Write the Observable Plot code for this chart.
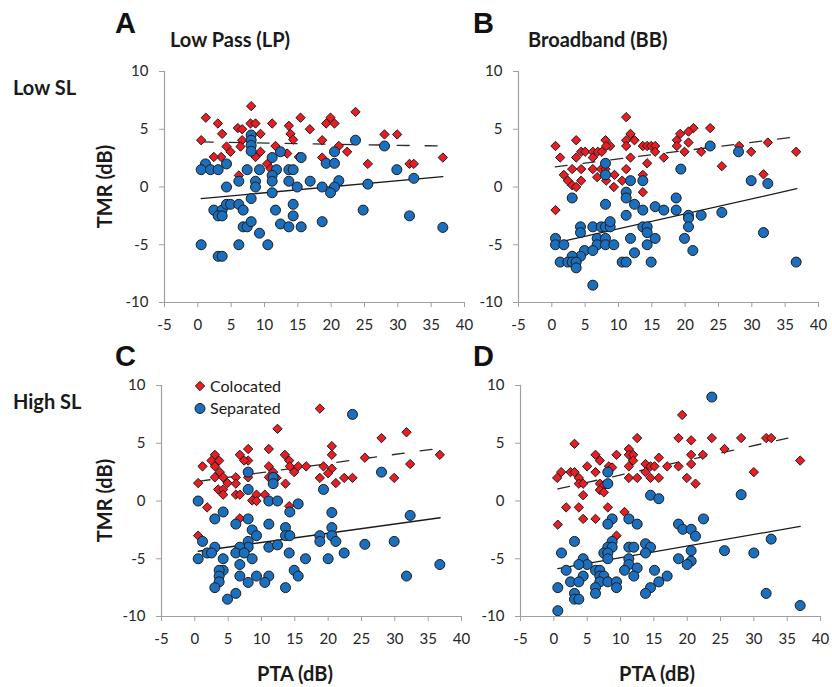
<!DOCTYPE html>
<html>
<head>
<meta charset="utf-8">
<script src="https://cdn.jsdelivr.net/npm/d3@7"></script>
<script src="https://cdn.jsdelivr.net/npm/@observablehq/plot@0.6"></script>
<style>
  html, body { margin: 0; padding: 0; background: #fff; }
  #fig { position: relative; width: 832px; height: 687px; background: #fff; overflow: hidden; }
  .panel { position: absolute; }
  #overlay { position: absolute; left: 0; top: 0; pointer-events: none; }
</style>
</head>
<body>
<div id="fig"></div>
<script>
// ---------- data (PTA dB, TMR dB) ----------
const xTicks = [-5, 0, 5, 10, 15, 20, 25, 30, 35, 40];
const yTicks = [-10, -5, 0, 5, 10];
const seriesNames = ["Colocated", "Separated"];
const panelLetters = ["A", "B", "C", "D"];
const columnTitles = ["Low Pass (LP)", "Broadband (BB)"];
const rowTitles = ["Low SL", "High SL"];

// Panel A: Low Pass, Low SL
const A_col = [[8,7],[1.2,6],[3,5.5],[15.4,6],[11.15,5.5],[16.8,5],[13.65,5.3],[3.65,4.6],[6,5.1],[6.65,5],[7.9,5.5],[8.65,5.5],[9.4,4.6],[0.5,4.05],[6.65,4.05],[13.9,4.6],[14.3,4.1],[4.3,3.5],[4.9,3.05],[3.5,2.6],[2.4,2.6],[6.4,3.5],[8.65,2.6],[9.4,3.05],[11.65,3.55],[10.4,2],[10.9,1.6],[6.15,1],[13.4,2.9],[15.15,2.6],[23.65,6.5],[19.9,6],[19.25,5.5],[20.5,5.5],[18.65,4.05],[28,4.55],[29.9,4.55],[21.15,3.55],[22.4,3.05],[18.65,2.55],[25.5,2],[31.75,2],[32.4,2],[36.75,2.55]];
const A_sep = [[8,4.5],[8,4.05],[8,3.6],[8,3.1],[1.15,2],[0.5,1.5],[1.9,1.5],[3.05,1.5],[4.3,2],[7.4,1.5],[9.25,1.5],[11.15,2.55],[12.4,3.05],[11.8,1.5],[11.15,1],[11.15,0.5],[8.65,0.5],[8.65,0],[6.15,0.5],[4.3,0],[13.65,1.5],[14.3,1.5],[13.65,0.5],[14.9,0],[15.5,2.55],[16.85,0.5],[11.15,-0.5],[8,-1],[2.4,-2],[3.65,-2],[3.05,-2.5],[3.65,-2.5],[4.3,-1.5],[4.9,-1.5],[6.15,-1.5],[6.8,-2],[6.8,-3.45],[7.4,-3.45],[8,-3],[9.25,-4],[11.65,-2],[12.4,-3.2],[13.65,-3.45],[14.3,-1.5],[14.3,-2.5],[15.5,-3.45],[0.5,-5],[6.15,-5],[10.5,-5],[3.05,-6],[3.65,-6],[23.65,4.05],[28,3.55],[20.5,3.05],[19.25,2.05],[20.5,2.05],[29.85,1.5],[18.65,0],[21.15,0.55],[20.5,0],[19.9,-0.5],[25.5,0.25],[32.4,0.75],[24.8,-2],[31.75,-2.5],[18.65,-3],[36.75,-3.5]];
const A_colTrend = [[0.5,3.9],[36.25,3.55]];
const A_sepTrend = [[0.5,-1.0],[36.75,0.9]];

// Panel B: Broadband, Low SL
const B_col = [[11.15,6.05],[3.65,4.05],[0.55,3.55],[1.25,2.55],[8.05,4.05],[11.8,4.6],[11.15,4.05],[12.4,4.05],[11.15,3.55],[4.4,3.05],[5,3.05],[6.15,3.05],[6.9,3.05],[7.5,3.05],[8.75,3.55],[8.15,3.55],[3.65,2.55],[6.15,2.55],[11.8,2.55],[13.65,3.55],[14.3,3.55],[14.9,3.55],[15.5,3.55],[15.5,3.05],[16.8,2.55],[14.3,2.05],[3.05,1.55],[4.4,1.55],[6.15,1.55],[7.4,1.55],[8.05,1.55],[11.15,1.55],[1.8,1.05],[2.4,0.55],[3.05,0.15],[3.65,0],[4.4,0.55],[6.8,0.85],[8.15,0.55],[9.4,1.05],[9.3,0],[10.55,0.55],[13.65,1.05],[13.65,-0.45],[0.55,-2],[21.25,5.1],[19.25,4.6],[20.5,4.8],[18.75,4.05],[20.5,3.85],[18.75,3.55],[19.9,3.05],[23.75,5.1],[22.4,3.05],[28.1,3.55],[29.9,3.05],[32.4,3.85],[36.65,3.05],[25.5,1.8],[31.75,1.1]];
const B_sep = [[8.05,2.05],[8.05,1.05],[11.8,0.55],[13.65,0.55],[3.05,-0.95],[8.05,-1.5],[11.15,-0.45],[11.15,-0.95],[12.4,-1.5],[13.65,-2],[15.5,-1.7],[16.8,-2],[11.15,-2.45],[4.3,-3.45],[4.3,-3.95],[6.15,-3.45],[7.4,-3.45],[8.05,-3.45],[8.75,-3.45],[8.75,-3],[0.55,-4.45],[0.55,-5],[1.8,-5],[6.8,-4.45],[8.05,-4.45],[6.8,-5],[8.05,-5],[9.3,-5],[4.9,-5.5],[6.15,-5.5],[4.3,-6],[3.05,-6],[1.25,-6.5],[2.4,-6.5],[3.05,-6.5],[3.65,-6.5],[3.65,-7],[11.8,-4.45],[13.65,-3.45],[14.3,-3.45],[14.3,-3.95],[15.5,-4.45],[14.3,-5],[12.4,-5.7],[10.55,-6.5],[11.15,-6.5],[14.9,-6.5],[6.15,-8.5],[23.75,3.55],[28,3.05],[19.35,1.55],[29.9,0.55],[32.4,0.3],[18.65,-0.95],[18.65,-2],[20.5,-2.45],[20.5,-2.7],[22.4,-2.45],[25.5,-2.2],[20.5,-3.45],[19.9,-4.45],[21.15,-5.5],[31.75,-3.95],[36.65,-6.5]];
const B_colTrend = [[0.5,1.75],[36,4.3]];
const B_sepTrend = [[1.25,-4.75],[36.75,-0.15]];

// Panel C: Low Pass, High SL
const C_col = [[12.4,6.25],[8,4.5],[11.1,4.5],[6.75,4],[3,4],[2.5,3.5],[3.65,3.5],[3,3],[1.15,3],[8,3.5],[7.4,3.5],[13.5,4],[14.15,3.5],[14.25,3],[15.5,3],[16.7,3],[14.9,2.5],[11.1,3],[11.75,2.5],[3.75,2.5],[3,2.05],[4.25,2.05],[6.15,2.05],[8,2.05],[0.5,1.55],[4.9,1.55],[6.15,1.5],[11.1,2.05],[12.25,2],[13.6,1.5],[3.5,1],[4.25,1],[4.25,0.55],[6.15,0.55],[6.75,0.55],[9.25,0.55],[10.5,0.55],[8.6,0.05],[9.25,0],[1.85,-0.55],[14.15,-0.45],[6.75,-1.5],[0.5,-3],[18.75,8],[31.75,5.95],[28,5.45],[20.55,4.75],[20.55,4],[25.5,3.75],[36.75,4],[19.3,3],[20.55,2.8],[20,2.4],[18.75,2],[21.15,1.55],[22.4,2],[23.65,2],[29.9,2],[32.3,3.2]];
const C_sep = [[8,2.5],[11.75,2.05],[11.75,1.5],[8,1],[0.5,0],[11.1,0],[12.4,0],[15.5,-0.25],[4.25,-0.95],[3,-1.55],[14.25,-0.95],[8,-1.55],[6.15,-2],[11.1,-2],[8.6,-2.5],[9.25,-3],[13.6,-2.3],[13.6,-3],[14.25,-3],[1.15,-3.5],[8,-3.5],[8,-4],[6.75,-4],[3,-4],[1.85,-4.5],[2.5,-4.5],[6.15,-4.5],[7.4,-4.5],[8.6,-5],[11.1,-4],[12.4,-3.8],[0.5,-5],[4.25,-5],[6.75,-5.5],[14.15,-4.5],[16.6,-5],[4.25,-6],[3.65,-6],[3.65,-6.5],[6.75,-6.5],[9.25,-6.5],[11.1,-6.5],[14.9,-6],[15.5,-6.5],[3.65,-7],[8,-7.05],[10.5,-7.05],[3,-7.5],[13.6,-7.5],[6.15,-8],[4.9,-8.5],[23.65,7.5],[28,2.5],[19.3,1],[20.55,-1],[20.55,-2.3],[20.55,-3],[18.75,-3],[18.75,-3.5],[21.15,-3.5],[22.4,-4.5],[25.5,-3.75],[29.9,-3.5],[32.3,-1.25],[20,-5],[31.75,-6.5],[36.75,-5.5]];
const C_colTrend = [[0.5,1.7],[35.9,4.5]];
const C_sepTrend = [[0.5,-4.35],[36.8,-1.45]];

// Panel D: Broadband, High SL
const D_col = [[12.5,5.45],[3.1,4.95],[11.25,4.5],[6.25,4],[6.9,3.5],[9.4,4],[11.25,4],[11.9,4],[11.9,3.5],[15.75,3.75],[5,3],[8.25,3],[8.75,2.9],[11.25,3],[13.75,3.2],[14.5,3],[15.1,3],[17,3],[1.1,2.5],[2.5,2.5],[3.1,2.5],[6.25,2.5],[13.75,2.5],[0.5,2],[3.75,2],[11.25,2],[12.5,2],[14.5,2],[15.75,2],[3.75,1.5],[4.4,1.5],[6.9,1.5],[7.5,1.35],[6.9,0.95],[7.5,0.75],[4.4,0.5],[1.85,-0.55],[3.75,-0.55],[8.1,-0.55],[10.6,-0.95],[4.4,-1.55],[6.25,-1.55],[9.4,-3],[0.6,-2.05],[19.25,7.45],[18.7,5.45],[20.6,5.25],[23.7,5.45],[28.1,5.45],[31.85,5.45],[32.6,5.45],[25.6,4.5],[20.6,4],[22.35,4],[18.7,3],[20.6,3.2],[19.95,2],[21.25,1.5],[30,2.5],[36.95,3.5]];
const D_sep = [[8.1,2.5],[8.1,1.5],[14.5,0.5],[15.75,0.2],[8.75,-1.55],[8.1,-2],[11.25,-1.55],[12.5,-2],[3.1,-3.5],[1.15,-4.5],[8.75,-3.5],[8.1,-4],[8.75,-4],[7.5,-4.5],[8.1,-4.5],[11.25,-4],[12,-4],[13.75,-3.7],[14.5,-4],[13.75,-4.5],[4.4,-5],[5,-5.5],[8.1,-5],[11.25,-5],[11.25,-5.5],[3.75,-5.5],[1.85,-6],[6.25,-6],[6.9,-6],[10.6,-6],[12.5,-5.8],[15.1,-6],[4.4,-6.5],[6.9,-6.5],[7.5,-6.5],[12,-6.5],[2.5,-7],[3.75,-7],[6.9,-7],[8.1,-7],[9.4,-7],[9.4,-7.5],[6.25,-7.5],[15.75,-7],[17,-6.5],[14.5,-7.5],[13.75,-8],[0.6,-7.5],[3.1,-8],[3.1,-8.5],[3.75,-8.5],[6.25,-8],[0.6,-9.5],[23.7,9],[28.1,0.55],[22.45,-1.55],[18.7,-2],[19.35,-2.45],[20.6,-2.45],[21.25,-3.05],[20.6,-4.3],[18.7,-5],[20.6,-5.2],[20,-5.5],[25.6,-4.3],[30,-4.5],[32.6,-3.3],[31.85,-8],[36.95,-9.05]];
const D_colTrend = [[0.6,1.05],[35.1,5.45]];
const D_sepTrend = [[0.6,-5.85],[36.95,-2.2]];

// ---------- styling ----------
const RED = "#ec1c24";
const BLUE = "#1b6fbf";
const EDGE = "#1c1c1c";
const AXIS = "#a0a0a0";
const FONT = "Lato, 'Open Sans', 'Noto Sans', sans-serif";

const fig = document.getElementById("fig");

function panel(col, sep, colTrend, sepTrend) {
  return Plot.plot({
    width: 360, height: 276,
    marginLeft: 50, marginRight: 10, marginTop: 10, marginBottom: 35,
    x: {domain: [-5, 40]},
    y: {domain: [-10, 10]},
    style: {fontFamily: FONT, fontSize: "15px", color: "#262626", background: "transparent", overflow: "visible"},
    marks: [
      Plot.ruleX([-5], {stroke: AXIS, strokeWidth: 1.2}),
      Plot.ruleY([-10], {stroke: AXIS, strokeWidth: 1.2}),
      Plot.axisX({ticks: xTicks, tickSize: 5, tickPadding: 12, stroke: AXIS, fill: "#262626", label: null, tickFormat: d => String(d)}),
      Plot.axisY({ticks: yTicks, tickSize: 5, tickPadding: 11, stroke: AXIS, fill: "#262626", label: null, tickFormat: d => String(d)}),
      Plot.line(colTrend, {x: d => d[0], y: d => d[1], stroke: "#2a2a2a", strokeWidth: 1.3, strokeDasharray: "12,16"}),
      Plot.line(sepTrend, {x: d => d[0], y: d => d[1], stroke: "#1a1a1a", strokeWidth: 1.3}),
      Plot.dot(col, {x: d => d[0], y: d => d[1], symbol: "diamond2", r: 4.2, fill: RED, stroke: EDGE, strokeWidth: 1}),
      Plot.dot(sep, {x: d => d[0], y: d => d[1], symbol: "circle", r: 5, fill: BLUE, stroke: EDGE, strokeWidth: 1})
    ]
  });
}

const panels = [
  {plot: panel(A_col, A_sep, A_colTrend, A_sepTrend), left: 114, top: 61},
  {plot: panel(B_col, B_sep, B_colTrend, B_sepTrend), left: 467.5, top: 61},
  {plot: panel(C_col, C_sep, C_colTrend, C_sepTrend), left: 111, top: 375},
  {plot: panel(D_col, D_sep, D_colTrend, D_sepTrend), left: 470, top: 375}
];
for (const p of panels) {
  const div = document.createElement("div");
  div.className = "panel";
  div.style.left = p.left + "px";
  div.style.top = p.top + "px";
  div.appendChild(p.plot);
  fig.appendChild(div);
}

// ---------- overlay text (titles, labels, legend) ----------
const svg = d3.select(fig).append("svg")
  .attr("id", "overlay").attr("width", 832).attr("height", 687);

const letterPos = [[115, 33], [473, 33], [115, 366], [473, 366]];
panelLetters.forEach((t, i) => {
  svg.append("text").attr("x", letterPos[i][0]).attr("y", letterPos[i][1])
    .attr("font-family", "'Liberation Sans', Arial, sans-serif").attr("font-weight", "bold")
    .attr("font-size", 29).attr("fill", "#111").text(t);
});

const colTitlePos = [[170, 47], [528, 47]];
columnTitles.forEach((t, i) => {
  svg.append("text").attr("x", colTitlePos[i][0]).attr("y", colTitlePos[i][1])
    .attr("font-family", FONT).attr("font-weight", "bold")
    .attr("font-size", 20).attr("fill", "#1a1a1a").text(t);
});

const rowTitlePos = [[13, 95], [13, 409]];
rowTitles.forEach((t, i) => {
  svg.append("text").attr("x", rowTitlePos[i][0]).attr("y", rowTitlePos[i][1])
    .attr("font-family", FONT).attr("font-weight", "bold")
    .attr("font-size", 20).attr("fill", "#1a1a1a").text(t);
});

// y-axis titles
[186.5, 500.5].forEach(cy => {
  svg.append("text").attr("transform", `translate(112,${cy}) rotate(-90)`)
    .attr("text-anchor", "middle")
    .attr("font-family", FONT).attr("font-weight", "bold")
    .attr("font-size", 20).attr("fill", "#1a1a1a").text("TMR (dB)");
});
// x-axis titles
[295, 657].forEach(cx => {
  svg.append("text").attr("x", cx).attr("y", 681)
    .attr("text-anchor", "middle")
    .attr("font-family", FONT).attr("font-weight", "bold")
    .attr("font-size", 20).attr("fill", "#1a1a1a").text("PTA (dB)");
});

// legend (panel C)
const legendSymbols = [d3.symbolDiamond2, d3.symbolCircle];
const legendFill = [RED, BLUE];
const legendR = [4.2, 5];
const legendY = [386, 408.5];
seriesNames.forEach((name, i) => {
  svg.append("path")
    .attr("d", d3.symbol(legendSymbols[i], Math.PI * legendR[i] * legendR[i])())
    .attr("transform", `translate(200,${legendY[i]})`)
    .attr("fill", legendFill[i]).attr("stroke", EDGE).attr("stroke-width", 1);
  svg.append("text").attr("x", 210).attr("y", legendY[i] + 5.5)
    .attr("font-family", FONT).attr("font-size", 16).attr("fill", "#1a1a1a").text(name);
});
</script>
</body>
</html>
